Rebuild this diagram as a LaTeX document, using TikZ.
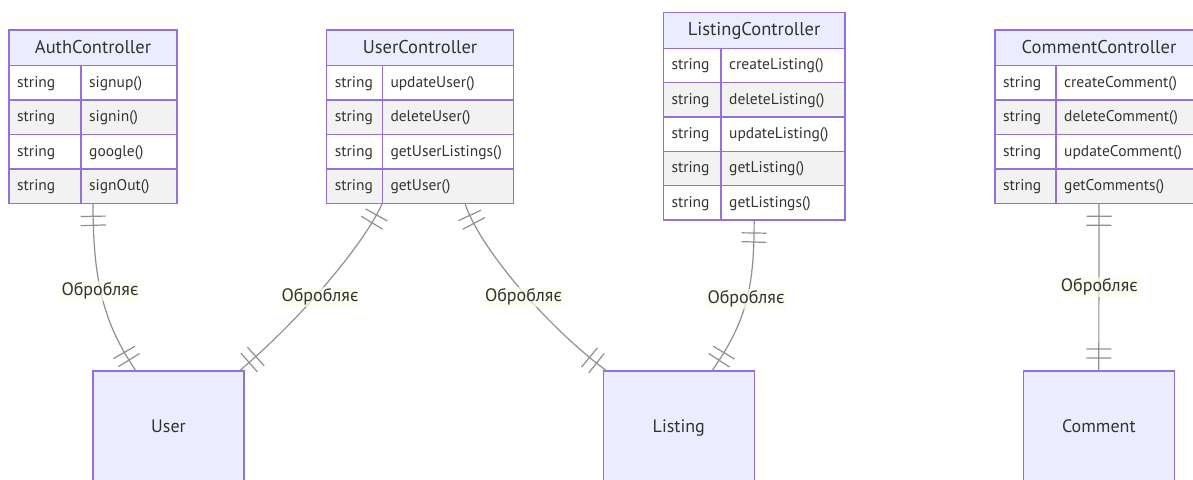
\documentclass[tikz,border=0pt]{standalone}
\usepackage{fontspec}
\setmainfont{PT Sans}
\usetikzlibrary{decorations.markings}

\definecolor{erborder}{HTML}{9370DB}
\definecolor{erhead}{HTML}{ECECFF}
\definecolor{errow}{HTML}{F2F2F2}
\definecolor{ertext}{HTML}{333333}
\definecolor{erline}{HTML}{8F8F8F}
\definecolor{erlabel}{HTML}{F9FFEC}

\tikzset{
  relline/.style={draw=erline, line width=1.2pt},
  relbar/.style={draw=erline, line width=1.2pt},
  onlyone/.style={postaction={decorate}, decoration={markings,
    mark=at position 13pt with {\draw[relbar] (0,-12.5pt) -- (0,12.5pt);},
    mark=at position 22pt with {\draw[relbar] (0,-12.5pt) -- (0,12.5pt);},
    mark=at position -13pt with {\draw[relbar] (0,-12.5pt) -- (0,12.5pt);},
    mark=at position -22pt with {\draw[relbar] (0,-12.5pt) -- (0,12.5pt);}}},
  gridline/.style={draw=erborder, line width=1.4pt},
  tablebox/.style={draw=erborder, line width=1.5pt, inner sep=0pt, outer sep=0pt},
  headtext/.style={anchor=base, inner sep=0pt, text=ertext, font=\fontsize{18.5}{22}\selectfont},
  celltext/.style={anchor=base west, inner sep=0pt, text=ertext, font=\fontsize{15.5}{18}\selectfont},
  entity/.style={draw=erborder, fill=erhead, line width=1.5pt, inner sep=0pt, outer sep=0pt,
    minimum width=151pt, minimum height=112pt, anchor=north, text=ertext,
    text height=12.6pt, text depth=2pt, font=\fontsize{18}{22}\selectfont},
  rellabel/.style={fill=erlabel, fill opacity=0.7, text opacity=1, text=ertext,
    inner xsep=2pt, inner ysep=1.5pt, text height=13pt, text depth=4pt,
    font=\fontsize{18}{22}\selectfont}
}

% #1 name, #2 left, #3 column divider, #4 right, #5 top, #6 header bottom,
% #7 row height, #8 title, #9 method list
\newcommand{\ertable}[9]{%
  \fill[erhead] (#2,#5) rectangle (#4,#6);
  \node[headtext] (#1-title) at ({(#2+#4)/2},{(#5+#6)/2+5.5}) {#8};
  \foreach \m [count=\i] in {#9} {
    \pgfmathsetmacro\ya{#6+(\i-1)*#7}
    \pgfmathsetmacro\yb{#6+\i*#7}
    \ifodd\i \def\rowfill{white}\else \def\rowfill{errow}\fi
    \fill[\rowfill] (#2,\ya) rectangle (#4,\yb);
    \node[celltext] (#1-t\i) at ({#2+8},{(\ya+\yb)/2+4.5}) {string};
    \node[celltext] (#1-m\i) at ({#3+8},{(\ya+\yb)/2+4.5}) {\m};
    \draw[gridline] (#2,\ya) -- (#4,\ya);
    \xdef\ernrows{\i}
  }
  \pgfmathsetmacro\ybot{#6+\ernrows*#7}
  \draw[gridline] (#3,#6) -- (#3,\ybot);
  \node[tablebox, anchor=north west, minimum width={(#4-#2)*1pt},
        minimum height={(\ybot-#5)*1pt}] (#1) at (#2,#5) {};
}

\begin{document}
\begin{tikzpicture}[x=1pt,y=-1pt]
\useasboundingbox (0,0) rectangle (1193,479);
\clip (0,0) rectangle (1193,479);

% controller tables
\ertable{actrl}{9}{81}{177}{30}{65.7}{34.4}{AuthController}{signup(),signin(),google(),signOut()}
\ertable{uctrl}{326.7}{382.3}{513.3}{30}{65.7}{34.4}{UserController}{updateUser(),deleteUser(),getUserListings(),getUser()}
\ertable{lctrl}{663.3}{721}{845}{12.3}{48.3}{34.34}{ListingController}{createListing(),deleteListing(),updateListing(),getListing(),getListings()}
\ertable{cctrl}{995}{1056}{1203}{30}{65.7}{34.4}{CommentController}{createComment(),deleteComment(),updateComment(),getComments()}

% entities
\node[entity] (user) at (168.5,371) {User};
\node[entity] (listing) at (678.8,371) {Listing};
\node[entity] (comment) at (1098.8,371) {Comment};

% relationships
\draw[relline, onlyone] (actrl.south)
  .. controls +(0,82) and +(-31,-46) .. ([xshift=-32.5pt]user.north);
\draw[relline, onlyone] ([xshift=-37.7pt]uctrl.south)
  .. controls +(-16,37) and +(66,-56) .. ([xshift=70.8pt]user.north);
\draw[relline, onlyone] ([xshift=45pt]uctrl.south)
  .. controls +(13,42) and +(-62,-46) .. ([xshift=-72pt]listing.north);
\draw[relline, onlyone] (lctrl.south)
  .. controls +(0,65) and +(36,-51) .. ([xshift=33pt]listing.north);
\draw[relline, onlyone] (cctrl.south) -- (comment.north);

% relationship labels
\node[rellabel] (lab1) at (100,291.2) {Обробляє};
\node[rellabel] (lab2) at (320,297) {Обробляє};
\node[rellabel] (lab3) at (523.5,297) {Обробляє};
\node[rellabel] (lab4) at (746,299) {Обробляє};
\node[rellabel] (lab5) at (1099.3,287.3) {Обробляє};
\end{tikzpicture}
\end{document}
